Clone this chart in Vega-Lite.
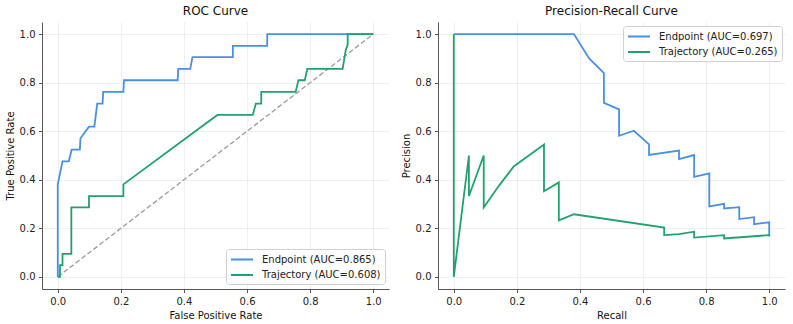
{
  "$schema": "https://vega.github.io/schema/vega-lite/v6.json",
  "padding": {"left": 5, "top": 5, "right": 2, "bottom": 2},
  "config": {
    "font": "DejaVu Sans",
    "view": {"stroke": null},
    "title": {"fontSize": 12, "fontWeight": "normal", "color": "#111111", "offset": 4},
    "axis": {
      "domainColor": "#444444",
      "domainWidth": 0.9,
      "tickColor": "#444444",
      "tickSize": 3.5,
      "tickWidth": 0.9,
      "labelFontSize": 10,
      "labelColor": "#222222",
      "labelPadding": 3.5,
      "titleFontSize": 10,
      "titleFontWeight": "normal",
      "titleColor": "#111111",
      "titlePadding": 4,
      "gridColor": "#ebebeb",
      "gridWidth": 0.8
    },
    "legend": {
      "orient": "none",
      "title": null,
      "symbolType": "M-1,0H3",
      "symbolStrokeWidth": 2,
      "symbolSize": 121,
      "labelFontSize": 10,
      "labelColor": "#222222",
      "labelOffset": 19,
      "labelLimit": 300,
      "padding": 4,
      "rowPadding": 3.5,
      "strokeColor": "#d0d0d0",
      "fillColor": "rgba(255,255,255,0.85)",
      "cornerRadius": 3
    }
  },
  "datasets": {
    "chance": [
      {"x": 0, "y": 0},
      {"x": 1, "y": 1}
    ],
    "roc": [
      {"series": "Endpoint (AUC=0.865)", "i": 0, "x": 0.0, "y": 0.0},
      {"series": "Endpoint (AUC=0.865)", "i": 1, "x": 0.0, "y": 0.381},
      {"series": "Endpoint (AUC=0.865)", "i": 2, "x": 0.015, "y": 0.476},
      {"series": "Endpoint (AUC=0.865)", "i": 3, "x": 0.035, "y": 0.476},
      {"series": "Endpoint (AUC=0.865)", "i": 4, "x": 0.044, "y": 0.524},
      {"series": "Endpoint (AUC=0.865)", "i": 5, "x": 0.07, "y": 0.524},
      {"series": "Endpoint (AUC=0.865)", "i": 6, "x": 0.072, "y": 0.571},
      {"series": "Endpoint (AUC=0.865)", "i": 7, "x": 0.099, "y": 0.619},
      {"series": "Endpoint (AUC=0.865)", "i": 8, "x": 0.116, "y": 0.619},
      {"series": "Endpoint (AUC=0.865)", "i": 9, "x": 0.125, "y": 0.714},
      {"series": "Endpoint (AUC=0.865)", "i": 10, "x": 0.142, "y": 0.714},
      {"series": "Endpoint (AUC=0.865)", "i": 11, "x": 0.144, "y": 0.762},
      {"series": "Endpoint (AUC=0.865)", "i": 12, "x": 0.208, "y": 0.762},
      {"series": "Endpoint (AUC=0.865)", "i": 13, "x": 0.21, "y": 0.81},
      {"series": "Endpoint (AUC=0.865)", "i": 14, "x": 0.38, "y": 0.81},
      {"series": "Endpoint (AUC=0.865)", "i": 15, "x": 0.382, "y": 0.857},
      {"series": "Endpoint (AUC=0.865)", "i": 16, "x": 0.42, "y": 0.857},
      {"series": "Endpoint (AUC=0.865)", "i": 17, "x": 0.427, "y": 0.905},
      {"series": "Endpoint (AUC=0.865)", "i": 18, "x": 0.555, "y": 0.905},
      {"series": "Endpoint (AUC=0.865)", "i": 19, "x": 0.555, "y": 0.952},
      {"series": "Endpoint (AUC=0.865)", "i": 20, "x": 0.664, "y": 0.952},
      {"series": "Endpoint (AUC=0.865)", "i": 21, "x": 0.664, "y": 1.0},
      {"series": "Endpoint (AUC=0.865)", "i": 22, "x": 1.0, "y": 1.0},
      {"series": "Trajectory (AUC=0.608)", "i": 0, "x": 0.0, "y": 0.0},
      {"series": "Trajectory (AUC=0.608)", "i": 1, "x": 0.007, "y": 0.0},
      {"series": "Trajectory (AUC=0.608)", "i": 2, "x": 0.007, "y": 0.048},
      {"series": "Trajectory (AUC=0.608)", "i": 3, "x": 0.015, "y": 0.048},
      {"series": "Trajectory (AUC=0.608)", "i": 4, "x": 0.015, "y": 0.095},
      {"series": "Trajectory (AUC=0.608)", "i": 5, "x": 0.043, "y": 0.095},
      {"series": "Trajectory (AUC=0.608)", "i": 6, "x": 0.043, "y": 0.286},
      {"series": "Trajectory (AUC=0.608)", "i": 7, "x": 0.099, "y": 0.286},
      {"series": "Trajectory (AUC=0.608)", "i": 8, "x": 0.099, "y": 0.333},
      {"series": "Trajectory (AUC=0.608)", "i": 9, "x": 0.208, "y": 0.333},
      {"series": "Trajectory (AUC=0.608)", "i": 10, "x": 0.208, "y": 0.381},
      {"series": "Trajectory (AUC=0.608)", "i": 11, "x": 0.506, "y": 0.667},
      {"series": "Trajectory (AUC=0.608)", "i": 12, "x": 0.618, "y": 0.667},
      {"series": "Trajectory (AUC=0.608)", "i": 13, "x": 0.628, "y": 0.714},
      {"series": "Trajectory (AUC=0.608)", "i": 14, "x": 0.645, "y": 0.714},
      {"series": "Trajectory (AUC=0.608)", "i": 15, "x": 0.645, "y": 0.762},
      {"series": "Trajectory (AUC=0.608)", "i": 16, "x": 0.754, "y": 0.762},
      {"series": "Trajectory (AUC=0.608)", "i": 17, "x": 0.763, "y": 0.81},
      {"series": "Trajectory (AUC=0.608)", "i": 18, "x": 0.783, "y": 0.81},
      {"series": "Trajectory (AUC=0.608)", "i": 19, "x": 0.791, "y": 0.857},
      {"series": "Trajectory (AUC=0.608)", "i": 20, "x": 0.903, "y": 0.857},
      {"series": "Trajectory (AUC=0.608)", "i": 21, "x": 0.913, "y": 0.935},
      {"series": "Trajectory (AUC=0.608)", "i": 22, "x": 0.919, "y": 0.957},
      {"series": "Trajectory (AUC=0.608)", "i": 23, "x": 0.919, "y": 1.0},
      {"series": "Trajectory (AUC=0.608)", "i": 24, "x": 1.0, "y": 1.0}
    ],
    "pr": [
      {"series": "Endpoint (AUC=0.697)", "i": 0, "x": 0.0, "y": 1.0},
      {"series": "Endpoint (AUC=0.697)", "i": 1, "x": 0.381, "y": 1.0},
      {"series": "Endpoint (AUC=0.697)", "i": 2, "x": 0.429, "y": 0.9},
      {"series": "Endpoint (AUC=0.697)", "i": 3, "x": 0.476, "y": 0.839},
      {"series": "Endpoint (AUC=0.697)", "i": 4, "x": 0.476, "y": 0.717},
      {"series": "Endpoint (AUC=0.697)", "i": 5, "x": 0.524, "y": 0.69},
      {"series": "Endpoint (AUC=0.697)", "i": 6, "x": 0.524, "y": 0.581},
      {"series": "Endpoint (AUC=0.697)", "i": 7, "x": 0.571, "y": 0.602},
      {"series": "Endpoint (AUC=0.697)", "i": 8, "x": 0.619, "y": 0.546},
      {"series": "Endpoint (AUC=0.697)", "i": 9, "x": 0.619, "y": 0.502},
      {"series": "Endpoint (AUC=0.697)", "i": 10, "x": 0.714, "y": 0.52},
      {"series": "Endpoint (AUC=0.697)", "i": 11, "x": 0.714, "y": 0.485},
      {"series": "Endpoint (AUC=0.697)", "i": 12, "x": 0.762, "y": 0.502},
      {"series": "Endpoint (AUC=0.697)", "i": 13, "x": 0.762, "y": 0.412},
      {"series": "Endpoint (AUC=0.697)", "i": 14, "x": 0.81, "y": 0.426},
      {"series": "Endpoint (AUC=0.697)", "i": 15, "x": 0.81, "y": 0.29},
      {"series": "Endpoint (AUC=0.697)", "i": 16, "x": 0.857, "y": 0.301},
      {"series": "Endpoint (AUC=0.697)", "i": 17, "x": 0.857, "y": 0.282},
      {"series": "Endpoint (AUC=0.697)", "i": 18, "x": 0.905, "y": 0.287},
      {"series": "Endpoint (AUC=0.697)", "i": 19, "x": 0.905, "y": 0.238},
      {"series": "Endpoint (AUC=0.697)", "i": 20, "x": 0.952, "y": 0.246},
      {"series": "Endpoint (AUC=0.697)", "i": 21, "x": 0.952, "y": 0.217},
      {"series": "Endpoint (AUC=0.697)", "i": 22, "x": 1.0, "y": 0.225},
      {"series": "Endpoint (AUC=0.697)", "i": 23, "x": 1.0, "y": 0.167},
      {"series": "Trajectory (AUC=0.265)", "i": 0, "x": 0.0, "y": 1.0},
      {"series": "Trajectory (AUC=0.265)", "i": 1, "x": 0.0, "y": 0.0},
      {"series": "Trajectory (AUC=0.265)", "i": 2, "x": 0.048, "y": 0.5},
      {"series": "Trajectory (AUC=0.265)", "i": 3, "x": 0.048, "y": 0.333},
      {"series": "Trajectory (AUC=0.265)", "i": 4, "x": 0.095, "y": 0.5},
      {"series": "Trajectory (AUC=0.265)", "i": 5, "x": 0.095, "y": 0.286},
      {"series": "Trajectory (AUC=0.265)", "i": 6, "x": 0.143, "y": 0.375},
      {"series": "Trajectory (AUC=0.265)", "i": 7, "x": 0.19, "y": 0.455},
      {"series": "Trajectory (AUC=0.265)", "i": 8, "x": 0.238, "y": 0.5},
      {"series": "Trajectory (AUC=0.265)", "i": 9, "x": 0.286, "y": 0.545},
      {"series": "Trajectory (AUC=0.265)", "i": 10, "x": 0.286, "y": 0.353},
      {"series": "Trajectory (AUC=0.265)", "i": 11, "x": 0.333, "y": 0.389},
      {"series": "Trajectory (AUC=0.265)", "i": 12, "x": 0.333, "y": 0.233},
      {"series": "Trajectory (AUC=0.265)", "i": 13, "x": 0.381, "y": 0.258},
      {"series": "Trajectory (AUC=0.265)", "i": 14, "x": 0.667, "y": 0.203},
      {"series": "Trajectory (AUC=0.265)", "i": 15, "x": 0.667, "y": 0.172},
      {"series": "Trajectory (AUC=0.265)", "i": 16, "x": 0.714, "y": 0.176},
      {"series": "Trajectory (AUC=0.265)", "i": 17, "x": 0.762, "y": 0.186},
      {"series": "Trajectory (AUC=0.265)", "i": 18, "x": 0.762, "y": 0.162},
      {"series": "Trajectory (AUC=0.265)", "i": 19, "x": 0.857, "y": 0.172},
      {"series": "Trajectory (AUC=0.265)", "i": 20, "x": 0.857, "y": 0.158},
      {"series": "Trajectory (AUC=0.265)", "i": 21, "x": 1.0, "y": 0.172},
      {"series": "Trajectory (AUC=0.265)", "i": 22, "x": 1.0, "y": 0.167}
    ]
  },
  "spacing": 12,
  "resolve": {"scale": {"color": "independent"}, "legend": {"color": "independent"}},
  "hconcat": [
    {
      "title": "ROC Curve",
      "width": 347,
      "height": 267,
      "encoding": {
        "x": {
          "field": "x", "type": "quantitative",
          "scale": {"domain": [-0.05, 1.05], "nice": false, "zero": false},
          "axis": {"title": "False Positive Rate", "values": [0, 0.2, 0.4, 0.6, 0.8, 1.0], "format": ".1f"}
        },
        "y": {
          "field": "y", "type": "quantitative",
          "scale": {"domain": [-0.05, 1.05], "nice": false, "zero": false},
          "axis": {"title": "True Positive Rate", "values": [0, 0.2, 0.4, 0.6, 0.8, 1.0], "format": ".1f"}
        }
      },
      "layer": [
        {
          "data": {"name": "chance"},
          "mark": {"type": "line", "color": "#9a9a9a", "strokeWidth": 1.3, "strokeDash": [5, 2.5]}
        },
        {
          "data": {"name": "roc"},
          "mark": {"type": "line", "strokeWidth": 1.8},
          "encoding": {
            "color": {
              "field": "series", "type": "nominal",
              "scale": {"domain": ["Endpoint (AUC=0.865)", "Trajectory (AUC=0.608)"], "range": ["#4a90e2", "#22a06e"]},
              "legend": {"legendX": 184, "legendY": 227}
            },
            "order": {"field": "i", "type": "quantitative"}
          }
        }
      ]
    },
    {
      "title": "Precision-Recall Curve",
      "width": 347,
      "height": 267,
      "data": {"name": "pr"},
      "mark": {"type": "line", "strokeWidth": 1.8},
      "encoding": {
        "x": {
          "field": "x", "type": "quantitative",
          "scale": {"domain": [-0.05, 1.05], "nice": false, "zero": false},
          "axis": {"title": "Recall", "values": [0, 0.2, 0.4, 0.6, 0.8, 1.0], "format": ".1f"}
        },
        "y": {
          "field": "y", "type": "quantitative",
          "scale": {"domain": [-0.05, 1.05], "nice": false, "zero": false},
          "axis": {"title": "Precision", "values": [0, 0.2, 0.4, 0.6, 0.8, 1.0], "format": ".1f"}
        },
        "color": {
          "field": "series", "type": "nominal",
          "scale": {"domain": ["Endpoint (AUC=0.697)", "Trajectory (AUC=0.265)"], "range": ["#4a90e2", "#22a06e"]},
          "legend": {"legendX": 185, "legendY": 4}
        },
        "order": {"field": "i", "type": "quantitative"}
      }
    }
  ]
}
